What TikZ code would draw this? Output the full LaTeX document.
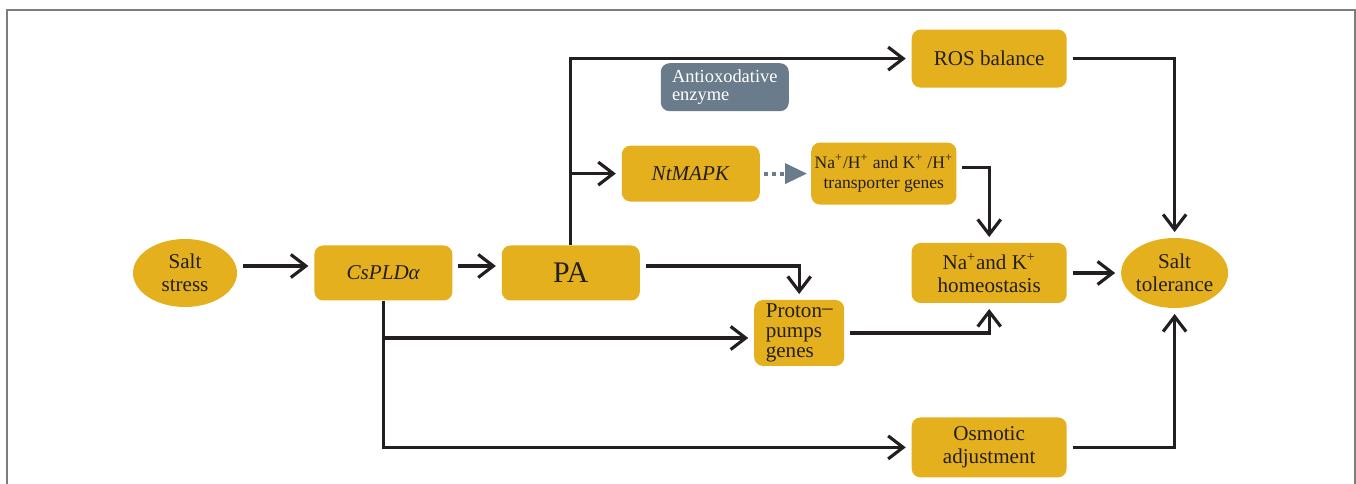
\documentclass[tikz,border=0pt]{standalone}
\usepackage{fontspec}
\setmainfont{Liberation Serif}
\usetikzlibrary{shapes.geometric, arrows.meta, positioning}

\definecolor{pathyellow}{RGB}{229,176,30}
\definecolor{enzymegray}{RGB}{106,124,139}
\definecolor{linedark}{RGB}{35,31,32}
\definecolor{framegray}{RGB}{125,125,125}

\begin{document}
\begin{tikzpicture}[
    thick,
    box/.style={rounded corners=5pt, fill=pathyellow, text=linedark, minimum width=2.76cm, minimum height=1.1cm, align=center, inner sep=2pt, font=\fontsize{12}{13}\selectfont},
    wide/.style={box, minimum width=3.1cm, minimum height=1.2cm},
    oval/.style={ellipse, fill=pathyellow, text=linedark, align=center, inner xsep=-8pt, inner ysep=0pt, font=\fontsize{12}{13}\selectfont},
    enzyme/.style={rounded corners=5pt, fill=enzymegray, text=white, minimum width=2.56cm, minimum height=0.96cm, align=left, font=\fontsize{10.5}{10.5}\selectfont},
    arr/.style={draw=linedark, line width=1.8pt, -{Straight Barb[length=3mm, width=4.6mm]}, shorten >=3pt},
    dash_arr/.style={draw=enzymegray, line width=2.2pt, dash pattern=on 2.5pt off 2pt, -{Triangle[length=4.4mm, width=4mm]}, shorten >=2pt, shorten <=2pt}
]
    \useasboundingbox (0,0) rectangle (27.12,-9.68);
    \draw[framegray, line width=0.6pt] (0.14,-9.68) |- (27.10,-0.2) -- (27.10,-9.68);

    % Main row
    \node[oval, minimum width=2.08cm, minimum height=1.36cm] (salt) at (3.70,-5.46) {Salt\\stress};
    \node[box, right=1.52cm of salt] (cspld) {\textit{CsPLDα}};
    \node[box, right=0.96cm of cspld, font=\fontsize{17}{18}\selectfont] (pa) {PA};
    \node[wide, right=5.41cm of pa] (homeo) {Na\textsuperscript{+}and K\textsuperscript{+}\\homeostasis};
    \node[oval, minimum width=2.14cm, minimum height=1.40cm, right=1.06cm of homeo] (tol) {Salt\\tolerance};

    % Outputs above and below
    \node[wide, minimum height=1.16cm, above=3.08cm of homeo] (ros) {ROS balance};
    \node[wide, below=2.26cm of homeo] (osm) {Osmotic\\adjustment};

    % Upper branch
    \node[box, minimum height=1.12cm, above=0.85cm of pa, xshift=2.4cm] (ntmapk) {\textit{NtMAPK}};
    \node[box, minimum width=2.68cm, minimum height=1.24cm, right=1.0cm of ntmapk, font=\fontsize{10}{11.5}\selectfont] (trans) {Na\textsuperscript{+}/H\textsuperscript{+} and K\textsuperscript{+} /H\textsuperscript{+}\\transporter genes};
    \node[enzyme, above=0.66cm of ntmapk, xshift=0.68cm] (anti) {Antioxodative\\enzyme};

    % Lower branch
    \node[box, minimum width=1.8cm, minimum height=1.32cm, right=2.26cm of pa, yshift=-1.2cm, align=left, font=\fontsize{12}{11.5}\selectfont] (proton) {Proton\raisebox{.3ex}{–}\\pumps\\genes};

    % Connections
    \draw[arr, shorten <=3pt] ([yshift=0.14cm]salt.east) -- ([yshift=0.14cm]cspld.west);
    \draw[arr, shorten <=3pt] ([yshift=0.14cm]cspld.east) -- ([yshift=0.14cm]pa.west);
    \draw[arr, shorten <=3pt] ([yshift=0.14cm]pa.east) -| (proton.north);
    \draw[arr] (pa.north) |- (ros.west);
    \draw[arr] (pa.north |- ntmapk.west) -- (ntmapk.west);
    \draw[dash_arr] (ntmapk.east) -- (trans.west);
    \draw[arr, shorten <=3pt] ([yshift=0.12cm]trans.east) -| (homeo.north);
    \draw[arr] (cspld.south) |- ([yshift=-0.1cm]proton.west);
    \draw[arr] (cspld.south) |- (osm.west);
    \draw[arr, shorten <=3pt] (proton.east) -| (homeo.south);
    \draw[arr, shorten <=3pt] (homeo.east) -- (tol.west);
    \draw[arr, shorten <=3pt] (ros.east) -| (tol.north);
    \draw[arr, shorten <=3pt] (osm.east) -| (tol.south);

\end{tikzpicture}
\end{document}
